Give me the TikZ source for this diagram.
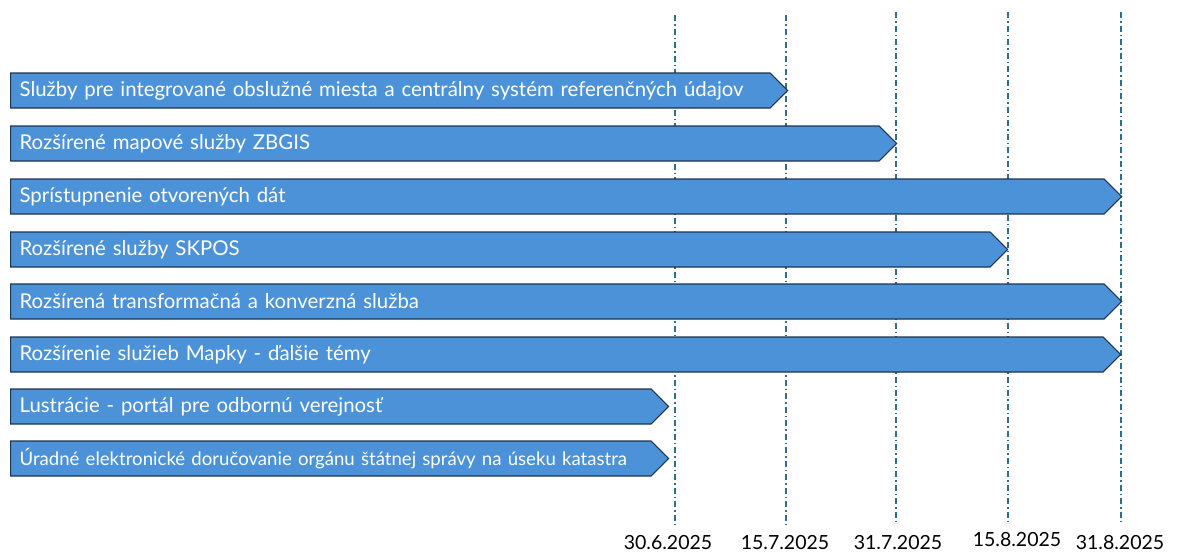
\documentclass[tikz,border=0pt]{standalone}
\usepackage{fontspec}
\setmainfont{Lato}
\usetikzlibrary{shapes.symbols, positioning, calc}
\definecolor{pruhmodra}{RGB}{76,146,216}
\definecolor{okraj}{RGB}{30,52,78}
\definecolor{ciaramodra}{RGB}{47,110,145}
\tikzset{
    % styl pre pruhy casovej osi
    pruh/.style={
           signal, signal to=east, signal pointer angle=90,
           fill=pruhmodra,
           draw=okraj, line width=1.2pt,
           minimum height=35pt,
           inner xsep=9pt,
           text=white,
           font=\fontsize{20.4}{24}\selectfont,
           align=left,
           anchor=west},
    % styl pre zvisle ciary terminov
    ciara/.style={
           draw=ciaramodra,
           line width=1.4pt,
           dash pattern=on 6pt off 3pt on 1.5pt off 3pt},
    % styl pre datumy
    datum/.style={
           font=\fontsize{19.5}{23}\selectfont,
           text=black,
           inner sep=0pt}
}
\begin{document}
\begin{tikzpicture}[x=1pt, y=-1pt]
	\useasboundingbox (0,0) rectangle (1177,554);
	%
	% terminy
	%
	\node[datum] (d1) at (668,543) {30.6.2025};
	\node[datum] (d2) at (785,543) {15.7.2025};
	\node[datum] (d3) at (898,543) {31.7.2025};
	\node[datum] (d4) at (1017,540) {15.8.2025};
	\node[datum] (d5) at (1120,543) {31.8.2025};
	\coordinate (t1) at (675,15);
	\coordinate (t2) at (786,15);
	\coordinate (t3) at (896,12);
	\coordinate (t4) at (1008,12);
	\coordinate (t5) at (1121,12);
	\foreach \i/\x in {1/675,2/786,3/896,4/1008,5/1121}{
		\draw[ciara] (t\i) -- (\x,525);
	}
	%
	% pruhy
	%
	\node[pruh, text width=741.5pt] (p1) at (10,90.5) {Služby pre integrované obslužné miesta a centrálny systém referenčných údajov};
	\node[pruh, text width=850.5pt] (p2) at (10,143.5) {Rozšírené mapové služby ZBGIS};
	\node[pruh, text width=1075.5pt] (p3) at (10,196.5) {Sprístupnenie otvorených dát};
	\node[pruh, text width=961.5pt] (p4) at (10,249.5) {Rozšírené služby SKPOS};
	\node[pruh, text width=1075.5pt] (p5) at (10,301.5) {Rozšírená transformačná a konverzná služba};
	\node[pruh, text width=1074.5pt] (p6) at (10,354.5) {Rozšírenie služieb Mapky - ďalšie témy};
	\node[pruh, text width=622.5pt] (p7) at (10,406.5) {Lustrácie - portál pre odbornú verejnosť};
	\node[pruh, text width=622.5pt, font=\fontsize{18.6}{22}\selectfont] (p8) at (10,458.5) {Úradné elektronické doručovanie orgánu štátnej správy na úseku katastra};
\end{tikzpicture}
\end{document}
